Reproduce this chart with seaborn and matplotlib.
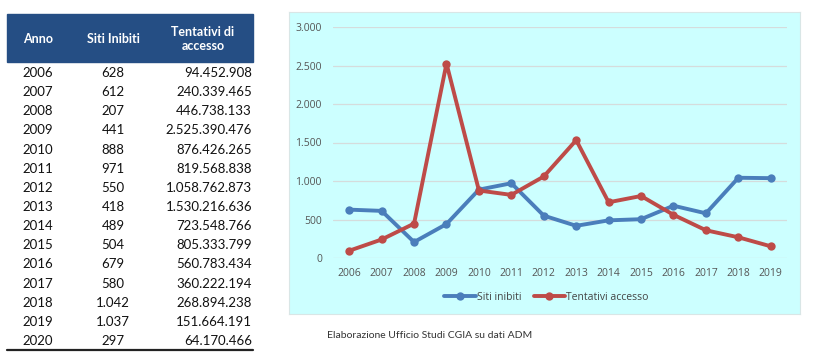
import pandas as pd
import matplotlib.pyplot as plt
import matplotlib.patches as mpatches
from matplotlib.ticker import FuncFormatter
import seaborn as sns

# dati tabella (2006-2020) e grafico (2006-2019)
anni = [2006, 2007, 2008, 2009, 2010, 2011, 2012, 2013, 2014, 2015, 2016, 2017, 2018, 2019, 2020]
siti = [628, 612, 207, 441, 888, 971, 550, 418, 489, 504, 679, 580, 1042, 1037, 297]
tentativi = [94452908, 240339465, 446738133, 2525390476, 876426265, 819568838, 1058762873,
             1530216636, 723548766, 805333799, 560783434, 360222194, 268894238, 151664191, 64170466]
header = ["Anno", "Siti Inibiti", "Tentativi di\naccesso"]
serie = ["Siti inibiti", "Tentativi accesso"]
caption = "Elaborazione Ufficio Studi CGIA su dati ADM"


def it_num(v):
    return f"{int(v):,}".replace(",", ".")


sns.set_style("white")
plt.rcParams['font.family'] = ['Lato', 'DejaVu Sans']

W, H = 815, 361
fig = plt.figure(figsize=(W / 100, H / 100), dpi=100)


def fx(px):
    return px / W


def fy(py):
    return 1 - py / H


# ---- tabella ----
fig.patches.append(mpatches.Rectangle((fx(7), fy(62)), fx(253) - fx(7), fy(14) - fy(62),
                                      transform=fig.transFigure, color="#254e84", zorder=0))
head_x = [38, 113, 203]
for x, t in zip(head_x, header):
    fig.text(fx(x), fy(39), t, ha="center", va="center", color="white",
             fontsize=9, fontweight="bold", linespacing=1.15)

y0, dy = 73, 19.14
for i, (a, s, t) in enumerate(zip(anni, siti, tentativi)):
    y = fy(y0 + i * dy)
    fig.text(fx(38), y, str(a), ha="center", va="center", fontsize=9.5, color="#111111")
    fig.text(fx(113), y, it_num(s), ha="center", va="center", fontsize=9.5, color="#111111")
    fig.text(fx(252), y, it_num(t), ha="right", va="center", fontsize=9.5, color="#111111")
fig.add_artist(plt.Line2D([fx(7), fx(253)], [fy(350), fy(350)], transform=fig.transFigure,
                          color="#222222", lw=1.6))

# ---- grafico ----
bg = fig.add_axes([fx(289), fy(314), fx(800) - fx(289), fy(12) - fy(314)])
bg.set_facecolor("#ccffff")
bg.set_xticks([])
bg.set_yticks([])
for sp in bg.spines.values():
    sp.set_color("#d9e6e6")
bg.set_zorder(0)

df = pd.DataFrame({
    "anno": anni[:14] * 2,
    "valore": siti[:14] + [t / 1e6 for t in tentativi[:14]],
    "serie": [serie[0]] * 14 + [serie[1]] * 14,
})

ax = fig.add_axes([fx(333), fy(258), fx(787) - fx(333), fy(27) - fy(258)])
ax.set_zorder(1)
ax.patch.set_visible(False)
sns.lineplot(data=df, x="anno", y="valore", hue="serie", palette=["#4a7ebb", "#be4b48"],
             marker="o", markersize=6, markeredgewidth=0, linewidth=2.8, sort=False, ax=ax)

ax.set_xlim(2005.5, 2019.5)
ax.set_ylim(0, 3000)
ax.set_xticks(anni[:14])
ax.set_yticks(range(0, 3001, 500))
ax.yaxis.set_major_formatter(FuncFormatter(lambda v, p: it_num(v)))
ax.grid(axis="y", color="#d5dcdc", lw=0.9)
ax.grid(axis="x", visible=False)
ax.set_axisbelow(True)
for sp in ax.spines.values():
    sp.set_visible(False)
ax.tick_params(axis="both", length=0, labelsize=7.5, colors="#555555")
ax.tick_params(axis="y", pad=8)
ax.tick_params(axis="x", pad=7)
ax.set_xlabel("")
ax.set_ylabel("")
for lab in ax.get_xticklabels() + ax.get_yticklabels():
    lab.set_fontfamily(["Open Sans", "DejaVu Sans"])

leg = ax.legend(loc="center", bbox_to_anchor=(0.47, -0.17), ncol=2, frameon=False,
                fontsize=7.5, handlelength=3, handletextpad=0.1, columnspacing=1.2,
                labelcolor="#444444")
for t in leg.get_texts():
    t.set_fontfamily(["Open Sans", "DejaVu Sans"])

fig.text(fx(327), fy(336), caption, ha="left", va="center", fontsize=7.5, color="#333333")

plt.savefig("out.png", dpi=100)
